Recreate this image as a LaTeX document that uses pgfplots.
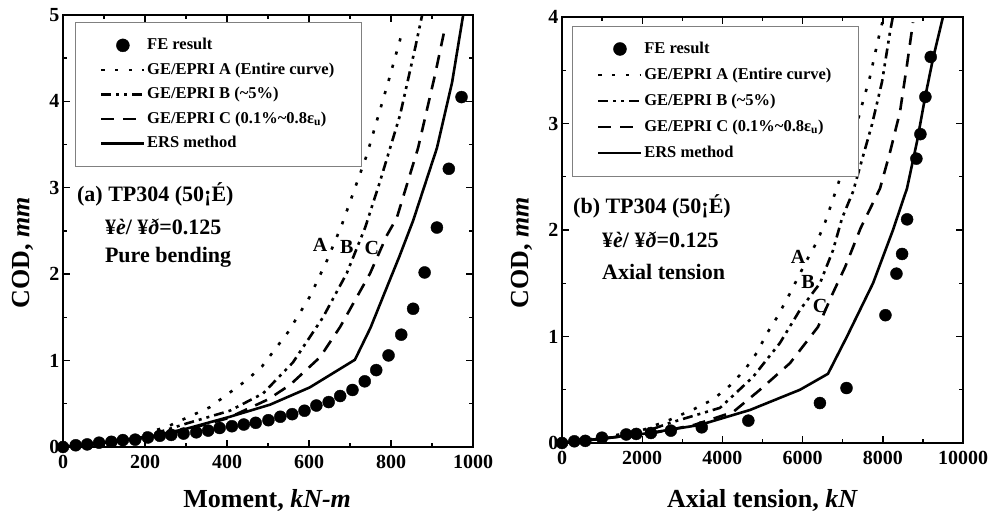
\documentclass[border=0pt]{standalone}
\usepackage{fontspec}
\setmainfont{Liberation Serif}
\usepackage{pgfplots}
\pgfplotsset{compat=1.18}
\tikzset{
 ann/.style={font=\fontsize{22}{26}\selectfont\bfseries, anchor=west, inner sep=0pt},
 abc/.style={font=\fontsize{20}{24}\selectfont\bfseries, inner sep=0pt},
}
\begin{document}
\begin{tikzpicture}
\path[use as bounding box] (0pt,0pt) rectangle (994pt,527pt);
\pgfplotsset{
 common/.style={
  scale only axis, anchor=south west,
  axis line style={line width=1.8pt},
  every tick/.style={black, line width=1.4pt},
  major tick length=7pt, minor tick length=4pt,
  tick align=inside,
  minor x tick num=1, minor y tick num=1,
  ticklabel style={font=\fontsize{20}{23}\selectfont\bfseries},
  xticklabel style={yshift=-5pt},
  label style={font=\fontsize{26}{30}\selectfont\bfseries},
  scaled ticks=false,
  legend cell align=left,
  legend image code/.code={\draw[##1] (0pt,0pt) -- (43pt,0pt);},
  legend style={draw=gray, fill=white,
    font=\fontsize{16.5}{19}\selectfont\bfseries,
    nodes={inner sep=1.5pt, text height=12pt, text depth=3.5pt},
    inner xsep=25pt, inner ysep=14pt, row sep=6pt, anchor=north west},
  /pgf/number format/assume math mode=true,
  /pgf/number format/fixed,
  /pgf/number format/1000 sep={},
 },
 fe/.style={only marks, mark=*, mark size=6pt, black,
   legend image code/.code={\fill (21.5pt,0pt) circle (6.5pt);}},
 ca/.style={black, line width=2.6pt, dash pattern=on 3.2pt off 10.5pt},
 cb/.style={black, line width=2.6pt, dash pattern=on 10pt off 5pt on 3pt off 5pt on 3pt off 5pt},
 cc/.style={black, line width=2.6pt, dash pattern=on 13pt off 9pt},
 ce/.style={black, line width=2.6pt},
}
% ---------------- left panel ----------------
\begin{axis}[common, at={(63pt,80pt)}, width=410pt, height=432pt,
  xmin=0, xmax=1000, ymin=0, ymax=5,
  xtick={0,200,400,600,800,1000}, ytick={0,1,2,3,4,5},
  xlabel={Moment, \textit{kN-m}}, ylabel={COD, \textit{mm}},
  xlabel style={at={(axis description cs:0.498,-0.123)}, anchor=center},
  ylabel style={at={(axis description cs:-0.098,0.449)}, anchor=center},
  legend style={at={(axis cs:29,4.92)}},
]
\addplot[fe] coordinates {(0,0)(31,0.02)(59,0.03)(88,0.05)(118,0.06)(146,0.08)(176,0.085)(207,0.11)(236,0.13)(264,0.14)(294,0.155)(325,0.17)(354,0.19)(382,0.22)(412,0.24)(441,0.26)(470,0.28)(501,0.31)(530,0.35)(559,0.38)(589,0.42)(618,0.48)(648,0.52)(676,0.59)(706,0.66)(736,0.76)(764,0.89)(794,1.06)(825,1.30)(854,1.60)(882,2.02)(912,2.54)(941,3.22)(972,4.05)};
\addlegendentry{FE result}
\addplot[ca] coordinates {(0,0)(100,0.05)(171,0.12)(252,0.23)(358,0.46)(447,0.77)(485,0.93)(549,1.33)(602,1.74)(644,2.16)(680,2.57)(741,3.38)(793,4.22)(829,4.83)};
\addlegendentry{GE/EPRI A (Entire curve)}
\addplot[cb] coordinates {(0,0)(100,0.04)(200,0.12)(300,0.27)(407,0.42)(488,0.62)(561,0.98)(634,1.5)(692,2.01)(737,2.54)(773,3.07)(822,3.84)(859,4.62)(876,5.0)};
\addlegendentry{GE/EPRI B (\textasciitilde5\%)}
\addplot[cc] coordinates {(0,0)(100,0.04)(200,0.1)(300,0.2)(400,0.33)(500,0.55)(554,0.72)(627,1.04)(676,1.39)(749,2.01)(790,2.45)(814,2.65)(866,3.46)(907,4.3)(932,4.86)};
\addlegendentry{GE/EPRI C (0.1\%\textasciitilde0.8ε\textsubscript{u})}
\addplot[ce] coordinates {(0,0)(100,0.05)(200,0.11)(300,0.21)(407,0.35)(505,0.49)(602,0.69)(712,1.01)(750,1.38)(790,1.85)(820,2.2)(854,2.62)(912,3.46)(949,4.22)(976,5.0)};
\addlegendentry{ERS method}
\node[ann] at (axis cs:34,2.92) {(a) TP304 (50¡É)};
\node[ann] at (axis cs:102,2.55) {¥\textit{è}/ ¥\textit{ð}=0.125};
\node[ann] at (axis cs:102,2.19) {Pure bending};
\node[abc] at (axis cs:627,2.34) {A};
\node[abc] at (axis cs:692,2.32) {B};
\node[abc] at (axis cs:753,2.30) {C};
\end{axis}
% ---------------- right panel ----------------
\begin{axis}[common, at={(562pt,84pt)}, width=401pt, height=426pt,
  xmin=0, xmax=10000, ymin=0, ymax=4,
  xtick={0,2000,4000,6000,8000,10000}, ytick={0,1,2,3,4},
  xlabel={Axial tension, \textit{kN}}, ylabel={COD, \textit{mm}},
  xlabel style={at={(axis description cs:0.50,-0.134)}, anchor=center},
  ylabel style={at={(axis description cs:-0.0998,0.446)}, anchor=center},
  legend style={at={(axis cs:249,3.92)}, row sep=7.5pt},
]
\addplot[fe] coordinates {(0,0)(307,0.016)(581,0.02)(996,0.05)(1602,0.08)(1851,0.085)(2216,0.094)(2714,0.116)(3485,0.147)(4647,0.21)(6432,0.375)(7095,0.516)(8066,1.2)(8340,1.59)(8481,1.775)(8606,2.1)(8838,2.67)(8938,2.9)(9062,3.25)(9195,3.625)};
\addlegendentry{FE result}
\addplot[ca] coordinates {(0,0)(1000,0.05)(2000,0.12)(2700,0.22)(3300,0.32)(3770,0.41)(4190,0.54)(4564,0.69)(4863,0.85)(5112,1.03)(5362,1.18)(5636,1.37)(6110,1.72)(6359,1.89)(6559,2.07)(6858,2.40)(7250,2.85)(7500,3.2)(7681,3.44)(7880,3.78)(8020,4.0)};
\addlegendentry{GE/EPRI A (Entire curve)}
\addplot[cb] coordinates {(0,0)(1000,0.04)(1950,0.09)(2700,0.19)(3940,0.33)(4763,0.62)(5436,0.94)(5935,1.25)(6434,1.5)(6758,1.81)(6983,2.11)(7257,2.36)(7730,2.99)(7980,3.39)(8180,3.86)(8250,4.0)};
\addlegendentry{GE/EPRI B (\textasciitilde5\%)}
\addplot[cc] coordinates {(0,0)(1000,0.04)(2365,0.1)(3300,0.17)(4264,0.29)(4938,0.5)(5686,0.75)(6384,1.09)(6758,1.41)(7057,1.65)(7450,2.02)(7930,2.39)(8180,2.73)(8429,3.11)(8603,3.55)(8753,3.95)};
\addlegendentry{GE/EPRI C (0.1\%\textasciitilde0.8ε\textsubscript{u})}
\addplot[ce] coordinates {(0,0)(954,0.04)(2116,0.09)(3441,0.17)(4688,0.31)(5935,0.5)(6633,0.65)(7107,1.0)(7756,1.5)(8254,2.0)(8603,2.39)(8853,2.83)(9052,3.24)(9252,3.61)(9500,4.0)};
\addlegendentry{ERS method}
\node[ann] at (axis cs:274,2.22) {(b) TP304 (50¡É)};
\node[ann] at (axis cs:998,1.91) {¥\textit{è}/ ¥\textit{ð}=0.125};
\node[ann] at (axis cs:998,1.61) {Axial tension};
\node[abc] at (axis cs:5885,1.75) {A};
\node[abc] at (axis cs:6135,1.51) {B};
\node[abc] at (axis cs:6434,1.29) {C};
\end{axis}
\end{tikzpicture}
\end{document}
